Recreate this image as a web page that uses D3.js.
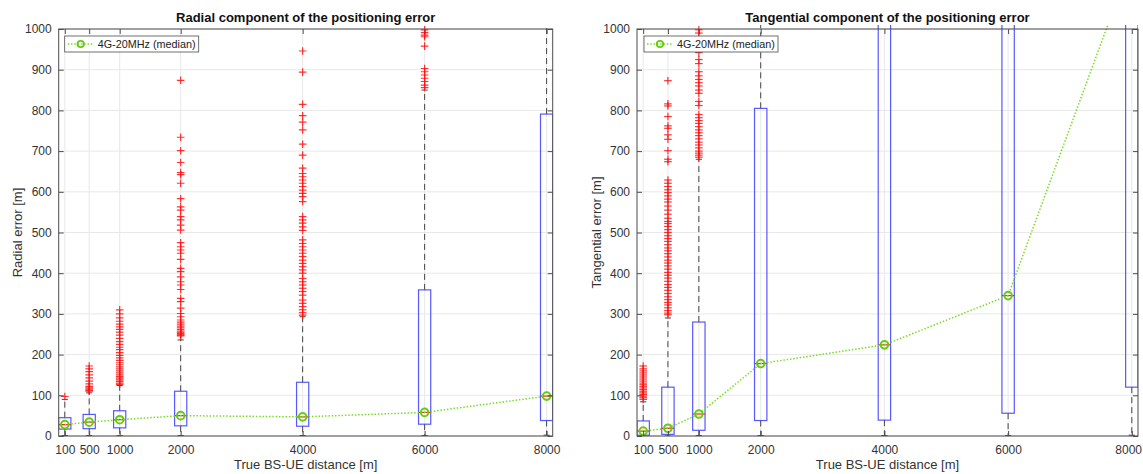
<!DOCTYPE html>
<html>
<head>
<meta charset="utf-8">
<script src="https://cdn.jsdelivr.net/npm/d3@7"></script>
<style>
  body { margin: 0; background: #fff; }
  text { font-family: "Liberation Sans", Arial, Helvetica, sans-serif; }
</style>
</head>
<body>
<svg id="chart" width="1143" height="474"></svg>
<script>
// Distances (box positions) and axis ticks
const distances = [100, 500, 1000, 2000, 4000, 6000, 8000];
const xTickLabels = ["100", "500", "1000", "2000", "4000", "6000", "8000"];
const yTicks = [0, 100, 200, 300, 400, 500, 600, 700, 800, 900, 1000];

// Radial error statistics [m]
const radialLowerWhisker = [1, 1, 1, 1, 1, 1, 2];
const radialQ1 = [17, 18, 20, 25, 24, 29, 38];
const radialMedian = [28, 34, 40, 50, 47, 58, 98];
const radialQ3 = [45, 53, 62, 110, 132, 359, 791];
const radialUpperWhisker = [90, 106, 124, 236, 293, 850, 1900];
const radialOutliers = [
  [97],
  [110, 112, 115, 118, 122, 128, 135, 143, 150, 158, 165, 172],
  [127, 130, 134, 138, 142, 146, 150, 155, 160, 165, 170, 175, 180, 186, 192, 198, 205, 212,
   218, 225, 232, 240, 248, 255, 262, 268, 275, 282, 290, 300, 310],
  [246, 248, 250, 252, 255, 258, 262, 266, 270, 275, 280, 285, 293, 301, 314, 330, 338, 360,
   371, 379, 391, 404, 412, 434, 449, 457, 465, 475, 506, 518, 531, 539, 555, 563, 583, 621,
   642, 647, 672, 701, 734, 874],
  [297, 303, 310, 318, 326, 334, 346, 355, 363, 371, 379, 387, 400, 408, 416, 424, 432, 441,
   449, 457, 465, 473, 482, 505, 514, 523, 531, 539, 576, 588, 596, 604, 613, 621, 629, 637,
   645, 658, 690, 717, 752, 771, 787, 815, 894, 946],
  [856, 862, 871, 879, 887, 895, 903, 958, 981, 985, 991, 998],
  []
];

// Tangential error statistics [m]
const tangLowerWhisker = [0, 0, 1, 1, 1, 1, 2];
const tangQ1 = [2, 4, 14, 38, 39, 56, 120];
const tangMedian = [12, 19, 54, 178, 224, 345, 1170];
const tangQ3 = [37, 120, 280, 805, 1250, 1600, 2400];
const tangUpperWhisker = [84, 290, 680, 1800, 2600, 3300, 4800];
const tangOutliers = [
  [90, 94, 98, 102, 106, 110, 114, 118, 122, 126, 130, 135, 140, 145, 150, 155, 160, 165, 172],
  [298, 302, 308, 315, 322, 328, 335, 342, 350, 358, 365, 372, 380, 388, 395, 402, 410, 418,
   425, 432, 440, 448, 455, 462, 470, 478, 485, 492, 500, 507, 515, 522, 527, 535, 545, 555,
   565, 575, 582, 590, 598, 605, 613, 621, 629, 674, 680, 701, 729, 740, 756, 762, 785, 811,
   816, 873],
  [685, 690, 695, 700, 708, 715, 722, 730, 738, 745, 752, 760, 768, 775, 782, 790, 812, 822,
   842, 850, 860, 868, 876, 885, 895, 915, 925, 942, 952, 970, 980, 990, 998],
  [], [], [], []
];

const legendLabel = "4G-20MHz (median)";

const svg = d3.select("#chart");
const boxBlue = "#3b3bff";
const medianGreen = "#66cc11";
const lineGreen = "#77dd22";
const axisColor = "#4d4d4d";
const textColor = "#333333";
const pageWidth = 1143;

function drawPanel(cfg) {
  const x = d3.scaleLinear().domain([0, 8100]).range([cfg.left, cfg.right]);
  const y = d3.scaleLinear().domain([0, 1000]).range([cfg.bottom, cfg.top]);
  const g = svg.append("g");

  const clipId = "clip-" + cfg.id;
  svg.append("clipPath").attr("id", clipId)
    .append("rect")
    .attr("x", cfg.left).attr("y", cfg.top - 4)
    .attr("width", cfg.right - cfg.left).attr("height", cfg.bottom - cfg.top + 4);

  // grid
  const grid = g.append("g");
  grid.selectAll("line.gy").data(yTicks).join("line")
    .attr("x1", cfg.left).attr("x2", cfg.right)
    .attr("y1", d => y(d)).attr("y2", d => y(d))
    .attr("stroke", "#e8e8e8").attr("stroke-width", 1);
  grid.selectAll("line.gx").data(distances).join("line")
    .attr("x1", d => x(d)).attr("x2", d => x(d))
    .attr("y1", cfg.top).attr("y2", cfg.bottom)
    .attr("stroke", "#e8e8e8").attr("stroke-width", 1);

  const plot = g.append("g").attr("clip-path", `url(#${clipId})`);
  const half = 100;

  const stats = distances.map((d, i) => ({
    pos: d, lo: cfg.lower[i], q1: cfg.q1[i], med: cfg.median[i],
    q3: cfg.q3[i], hi: cfg.upper[i], out: cfg.outliers[i]
  }));

  // whiskers (dashed)
  plot.selectAll("line.wu").data(stats).join("line")
    .attr("x1", d => x(d.pos)).attr("x2", d => x(d.pos))
    .attr("y1", d => y(d.q3)).attr("y2", d => y(d.hi))
    .attr("stroke", "#444").attr("stroke-width", 1).attr("stroke-dasharray", "6,4");
  plot.selectAll("line.wl").data(stats).join("line")
    .attr("x1", d => x(d.pos)).attr("x2", d => x(d.pos))
    .attr("y1", d => y(d.q1)).attr("y2", d => y(d.lo))
    .attr("stroke", "#444").attr("stroke-width", 1).attr("stroke-dasharray", "6,4");
  // whisker caps
  plot.selectAll("line.cu").data(stats).join("line")
    .attr("x1", d => x(d.pos - 50)).attr("x2", d => x(d.pos + 50))
    .attr("y1", d => y(d.hi)).attr("y2", d => y(d.hi))
    .attr("stroke", "#444").attr("stroke-width", 1);
  plot.selectAll("line.cl").data(stats).join("line")
    .attr("x1", d => x(d.pos - 50)).attr("x2", d => x(d.pos + 50))
    .attr("y1", d => y(d.lo)).attr("y2", d => y(d.lo))
    .attr("stroke", "#444").attr("stroke-width", 1);

  // boxes
  plot.selectAll("rect.box").data(stats).join("rect")
    .attr("x", d => x(d.pos - half)).attr("width", d => x(d.pos + half) - x(d.pos - half))
    .attr("y", d => y(d.q3)).attr("height", d => y(d.q1) - y(d.q3))
    .attr("fill", "none").attr("stroke", boxBlue).attr("stroke-width", 1.2).attr("stroke-opacity", 0.85);

  // median bars
  plot.selectAll("line.med").data(stats).join("line")
    .attr("x1", d => x(d.pos - half)).attr("x2", d => x(d.pos + half))
    .attr("y1", d => y(d.med)).attr("y2", d => y(d.med))
    .attr("stroke", "#ff2020").attr("stroke-width", 1.2);

  // outliers
  const pts = [];
  stats.forEach(s => s.out.forEach(v => pts.push({ pos: s.pos, v })));
  const plus = plot.selectAll("g.out").data(pts).join("g")
    .attr("transform", d => `translate(${x(d.pos)},${y(d.v)})`);
  plus.append("line").attr("x1", -3.8).attr("x2", 3.8).attr("y1", 0).attr("y2", 0)
    .attr("stroke", "#ff1010").attr("stroke-width", 1.2).attr("stroke-opacity", 0.85);
  plus.append("line").attr("x1", 0).attr("x2", 0).attr("y1", -3.8).attr("y2", 3.8)
    .attr("stroke", "#ff1010").attr("stroke-width", 1.2).attr("stroke-opacity", 0.85);

  // median trend line
  const line = d3.line().x(d => x(d.pos)).y(d => y(d.med));
  plot.append("path").datum(stats).attr("d", line)
    .attr("fill", "none").attr("stroke", lineGreen).attr("stroke-width", 1.5)
    .attr("stroke-dasharray", "1.5,1.8");
  plot.selectAll("circle.m").data(stats).join("circle")
    .attr("cx", d => x(d.pos)).attr("cy", d => y(d.med)).attr("r", 3.8)
    .attr("fill", "none").attr("stroke", medianGreen).attr("stroke-width", 2);

  // axes frame
  g.append("rect").attr("x", cfg.left).attr("y", cfg.top)
    .attr("width", cfg.right - cfg.left).attr("height", cfg.bottom - cfg.top)
    .attr("fill", "none").attr("stroke", axisColor).attr("stroke-width", 1);

  // y axis (left) with inward ticks
  const yAxis = d3.axisLeft(y).tickValues(yTicks).tickSize(-5).tickPadding(7).tickFormat(d3.format("d"));
  const ya = g.append("g").attr("transform", `translate(${cfg.left},0)`).call(yAxis);
  const yAxisR = d3.axisRight(y).tickValues(yTicks).tickSize(-5).tickFormat("");
  const yr = g.append("g").attr("transform", `translate(${cfg.right},0)`).call(yAxisR);

  // x axis (bottom) with inward ticks
  const xAxis = d3.axisBottom(x).tickValues(distances).tickSize(-5).tickPadding(9)
    .tickFormat((d, i) => xTickLabels[i]);
  const xa = g.append("g").attr("transform", `translate(0,${cfg.bottom})`).call(xAxis);
  const xAxisT = d3.axisTop(x).tickValues(distances).tickSize(-5).tickFormat("");
  const xt = g.append("g").attr("transform", `translate(0,${cfg.top})`).call(xAxisT);

  [ya, yr, xa, xt].forEach(a => {
    a.select(".domain").remove();
    a.selectAll(".tick line").attr("stroke", axisColor);
    a.selectAll(".tick text").attr("fill", textColor).style("font-size", "12px")
      .style("font-family", "'Liberation Sans', Arial, sans-serif");
  });

  // keep a label near the page edge inside the page
  xa.selectAll(".tick text").each(function () {
    const t = d3.select(this);
    const bb = this.getBBox();
    const tx = d3.select(this.parentNode).attr("transform");
    const cx = +tx.match(/translate\(([-\d.]+)/)[1];
    if (cx + bb.width / 2 > pageWidth - 1) {
      t.attr("text-anchor", "end").attr("x", pageWidth - 1 - cx);
    }
  });

  // titles and axis labels
  g.append("text").attr("x", (cfg.left + cfg.right) / 2).attr("y", 22)
    .attr("text-anchor", "middle").attr("fill", "#111").style("font-size", "13px")
    .style("font-weight", "bold").text(cfg.title);
  g.append("text").attr("x", (cfg.left + cfg.right) / 2).attr("y", 469)
    .attr("text-anchor", "middle").attr("fill", textColor).style("font-size", "13px")
    .text(cfg.xLabel);
  g.append("text").attr("transform", `translate(${cfg.yLabelX},${(cfg.top + cfg.bottom) / 2}) rotate(-90)`)
    .attr("text-anchor", "middle").attr("fill", textColor).style("font-size", "13px")
    .text(cfg.yLabel);

  // legend
  const lg = g.append("g").attr("transform", `translate(${cfg.left + cfg.legendDx},36)`);
  lg.append("rect").attr("x", 0).attr("y", 0).attr("width", cfg.legendW).attr("height", 16)
    .attr("fill", "#fff").attr("stroke", axisColor).attr("stroke-width", 0.8);
  lg.append("line").attr("x1", 3).attr("x2", 29).attr("y1", 8).attr("y2", 8)
    .attr("stroke", lineGreen).attr("stroke-width", 1.5).attr("stroke-dasharray", "1.5,1.8");
  lg.append("circle").attr("cx", 16).attr("cy", 8).attr("r", 3.2)
    .attr("fill", "none").attr("stroke", medianGreen).attr("stroke-width", 1.8);
  lg.append("text").attr("x", 33).attr("y", 12).attr("fill", "#222")
    .style("font-size", "10.8px").text(legendLabel);
}

drawPanel({
  id: "radial", left: 58.7, right: 552.7, top: 29, bottom: 436,
  lower: radialLowerWhisker, q1: radialQ1, median: radialMedian, q3: radialQ3,
  upper: radialUpperWhisker, outliers: radialOutliers,
  title: "Radial component of the positioning error",
  xLabel: "True BS-UE distance [m]", yLabel: "Radial error [m]", yLabelX: 22,
  legendDx: 6, legendW: 134
});

drawPanel({
  id: "tangential", left: 637, right: 1138, top: 29, bottom: 436,
  lower: tangLowerWhisker, q1: tangQ1, median: tangMedian, q3: tangQ3,
  upper: tangUpperWhisker, outliers: tangOutliers,
  title: "Tangential component of the positioning error",
  xLabel: "True BS-UE distance [m]", yLabel: "Tangential error [m]", yLabelX: 601,
  legendDx: 7, legendW: 134
});
</script>
</body>
</html>
